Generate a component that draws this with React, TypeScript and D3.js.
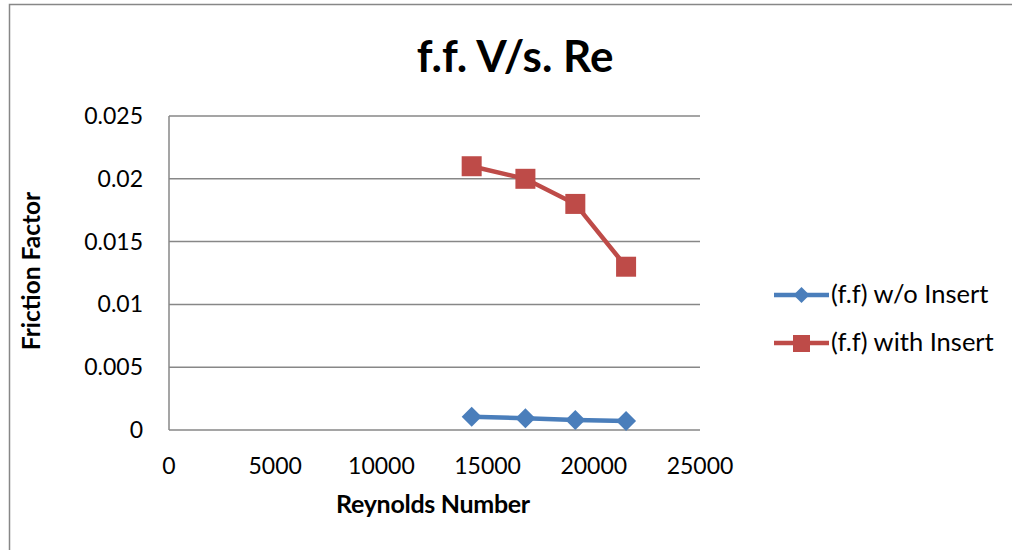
import React from "react";
import * as d3 from "d3";

const reynolds = [14250, 16780, 19130, 21520];
const ffWithout = [0.00106, 0.00093, 0.0008, 0.00072];
const ffWith = [0.021, 0.02, 0.018, 0.013];
const xTicks = [0, 5000, 10000, 15000, 20000, 25000];
const yTicks = [0, 0.005, 0.01, 0.015, 0.02, 0.025];
const yTickLabels = ["0", "0.005", "0.01", "0.015", "0.02", "0.025"];
const seriesNames = ["(f.f) w/o Insert", "(f.f) with Insert"];

const W = 1012;
const H = 550;
const FONT = "Lato, 'Open Sans', sans-serif";
const BLUE = "#4A7EBB";
const RED = "#BE4B48";
const GRID = "#878787";

export default function App() {
  const x = d3.scaleLinear().domain([0, 25000]).range([169, 700]);
  const y = d3.scaleLinear().domain([0, 0.025]).range([430, 116]);
  const line = d3
    .line<[number, number]>()
    .x((d) => x(d[0]))
    .y((d) => y(d[1]));
  const blueData: [number, number][] = reynolds.map((r, i) => [r, ffWithout[i]]);
  const redData: [number, number][] = reynolds.map((r, i) => [r, ffWith[i]]);
  const diamond = (cx: number, cy: number, s: number) =>
    `M${cx},${cy - s}L${cx + s},${cy}L${cx},${cy + s}L${cx - s},${cy}Z`;

  return (
    <svg
      width={W}
      height={H}
      style={{ position: "absolute", left: 0, top: 0, display: "block" }}
      fontFamily={FONT}
    >
      <rect x={0} y={0} width={W} height={H} fill="#fff" />
      <path d={`M9.5,${H + 5}V4.5H${W + 5}`} fill="none" stroke={GRID} strokeWidth={1.5} />
      <text x={515} y={72} textAnchor="middle" fontSize={44} fontWeight="bold" fill="#000">
        f.f. V/s. Re
      </text>
      {yTicks.map((t, i) => (
        <g key={i}>
          <line x1={x(0)} x2={x(25000)} y1={y(t)} y2={y(t)} stroke={GRID} strokeWidth={1.5} />
          <text x={143} y={y(t) + 8} textAnchor="end" fontSize={23} fill="#000">
            {yTickLabels[i]}
          </text>
        </g>
      ))}
      <line x1={x(0)} x2={x(0)} y1={y(0)} y2={y(0.025)} stroke={GRID} strokeWidth={1.5} />
      {xTicks.map((t, i) => (
        <text key={i} x={x(t)} y={474} textAnchor="middle" fontSize={23} fill="#000">
          {t}
        </text>
      ))}
      <text x={433} y={513} textAnchor="middle" fontSize={25} fontWeight="bold" fill="#000" letterSpacing={-0.3}>
        Reynolds Number
      </text>
      <text
        transform={`translate(40,271) rotate(-90)`}
        textAnchor="middle"
        fontSize={24.5}
        fontWeight="bold"
        fill="#000"
      >
        Friction Factor
      </text>
      <path d={line(blueData) || ""} fill="none" stroke={BLUE} strokeWidth={4.5} />
      {blueData.map((d, i) => (
        <path key={i} d={diamond(x(d[0]), y(d[1]), 10)} fill={BLUE} />
      ))}
      <path d={line(redData) || ""} fill="none" stroke={RED} strokeWidth={4.5} />
      {redData.map((d, i) => (
        <rect key={i} x={x(d[0]) - 10} y={y(d[1]) - 10} width={20} height={20} fill={RED} />
      ))}
      {/* legend */}
      <g>
        <line x1={774} x2={829} y1={295} y2={295} stroke={BLUE} strokeWidth={4.5} />
        <path d={diamond(801.5, 295, 8)} fill={BLUE} />
        <text x={831} y={303} fontSize={25.5} fill="#000">
          {seriesNames[0]}
        </text>
        <line x1={774} x2={829} y1={343} y2={343} stroke={RED} strokeWidth={4.5} />
        <rect x={793} y={335} width={17} height={17} fill={RED} />
        <text x={831} y={351} fontSize={25.5} fill="#000">
          {seriesNames[1]}
        </text>
      </g>
    </svg>
  );
}
